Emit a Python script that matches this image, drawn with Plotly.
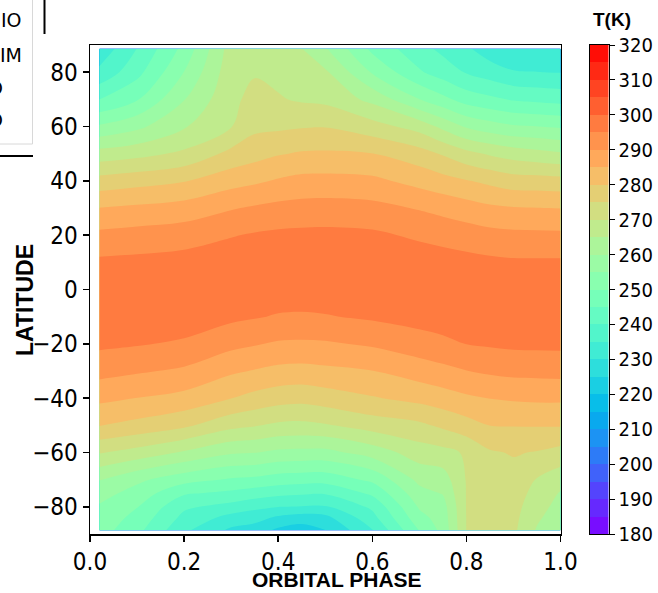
import math
import plotly.graph_objects as go

# ---------------- data ----------------
phase = [0.02, 0.1, 0.2, 0.3, 0.35, 0.4, 0.45, 0.5, 0.6, 0.7, 0.75, 0.8, 0.85, 0.9, 0.95, 1.0]
latitude = [-88.6, -84, -80, -75, -70, -60, -50, -40, -30, -20, -10, 0, 10, 20, 30, 40, 50, 60, 70, 80, 88.6]

# temperature[row = latitude][col = phase], K
temperature = [
    [252.2, 246.5, 236.0, 229.0, 227.5, 224.0, 222.5, 224.8, 234.7, 250.2, 256.5, 270.1, 272.3, 271.0, 264.5, 261.0],
    [253.4, 248.4, 238.6, 233.3, 232.0, 229.0, 227.5, 228.5, 238.3, 253.3, 257.3, 270.1, 272.4, 271.4, 265.8, 262.2],
    [254.4, 250.2, 240.9, 238.1, 236.3, 235.1, 234.7, 234.5, 241.0, 255.6, 258.0, 270.2, 272.5, 271.8, 266.9, 263.3],
    [257.0, 253.0, 245.6, 243.9, 242.5, 241.3, 240.6, 240.4, 246.0, 258.3, 260.3, 270.2, 272.7, 272.4, 268.3, 264.6],
    [260.2, 256.1, 251.9, 249.4, 248.8, 247.5, 247.1, 246.9, 251.1, 261.3, 262.5, 270.3, 273.0, 273.0, 269.7, 267.0],
    [270.4, 268.1, 264.4, 260.6, 260.2, 258.9, 258.6, 258.5, 262.2, 267.5, 268.5, 270.6, 274.4, 275.4, 274.7, 273.3],
    [280.2, 278.5, 276.0, 271.5, 270.4, 269.1, 268.8, 269.5, 272.3, 274.0, 276.0, 278.1, 280.1, 280.2, 280.3, 280.4],
    [286.2, 284.9, 283.4, 280.1, 278.4, 277.1, 276.6, 277.6, 279.6, 281.5, 282.8, 284.2, 285.1, 285.6, 285.9, 285.9],
    [291.7, 290.6, 289.2, 285.8, 284.7, 283.7, 283.4, 283.9, 284.9, 287.4, 288.6, 289.9, 290.8, 291.4, 291.5, 291.7],
    [296.0, 295.4, 294.3, 291.4, 290.4, 289.4, 289.2, 289.4, 290.7, 292.8, 293.9, 295.1, 295.6, 296.0, 296.1, 296.1],
    [298.2, 298.0, 297.7, 296.1, 295.4, 294.6, 294.4, 294.7, 295.7, 296.9, 297.4, 297.9, 298.1, 298.3, 298.3, 298.3],
    [298.2, 298.4, 298.5, 298.4, 298.1, 297.9, 297.8, 297.9, 298.2, 298.5, 298.5, 298.4, 298.3, 298.2, 298.1, 298.1],
    [296.0, 296.3, 296.9, 297.9, 298.2, 298.3, 298.4, 298.4, 298.2, 297.6, 297.1, 296.6, 296.1, 295.7, 295.7, 295.7],
    [291.2, 291.9, 292.8, 294.7, 295.5, 296.0, 296.2, 296.3, 295.9, 294.2, 293.4, 292.5, 291.6, 291.2, 291.1, 291.0],
    [285.1, 285.9, 287.0, 289.6, 290.6, 291.4, 291.8, 292.0, 291.5, 289.6, 288.4, 287.1, 285.9, 285.3, 285.1, 284.9],
    [277.0, 278.2, 279.7, 283.0, 284.1, 285.5, 286.5, 286.6, 286.1, 283.3, 281.8, 280.3, 278.8, 277.3, 277.2, 276.8],
    [267.0, 268.4, 271.0, 276.4, 278.1, 279.6, 280.5, 280.7, 280.1, 277.1, 274.5, 271.5, 269.4, 267.8, 266.7, 265.6],
    [255.7, 258.8, 264.5, 269.8, 273.8, 274.1, 274.6, 274.8, 272.0, 268.0, 263.7, 259.4, 257.2, 255.6, 255.1, 254.4],
    [244.9, 249.6, 259.8, 268.9, 271.4, 270.4, 269.4, 268.8, 263.6, 255.1, 251.4, 247.8, 246.1, 244.5, 243.8, 243.2],
    [236.2, 243.4, 255.1, 268.1, 269.6, 268.8, 267.0, 265.8, 254.5, 245.6, 242.6, 239.6, 237.5, 235.4, 235.1, 234.8],
    [231.5, 240.1, 251.5, 267.3, 268.8, 267.6, 265.1, 260.5, 248.8, 241.7, 238.8, 235.8, 232.3, 230.5, 230.7, 231.0],
]

x_ticks = [0.0, 0.2, 0.4, 0.6, 0.8, 1.0]
y_ticks = [-80, -60, -40, -20, 0, 20, 40, 60, 80]
cbar_ticks = [180, 190, 200, 210, 220, 230, 240, 250, 260, 270, 280, 290, 300, 310, 320]
level_start, level_end, level_step = 180, 320, 5

legend_texts = ["IO", "IM", "O", "O"]

# ---------------- colours: matplotlib "rainbow" ----------------
def rainbow(x):
    i = min(int(x * 256), 255)
    t = i / 255.0
    r = min(max(abs(2 * t - 0.5), 0.0), 1.0)
    g = min(max(math.sin(math.pi * t), 0.0), 1.0)
    b = min(max(math.cos(math.pi * t / 2), 0.0), 1.0)
    return "rgb(%d,%d,%d)" % (round(r * 255), round(g * 255), round(b * 255))

nb = (level_end - level_start) // level_step      # number of bands
nc = nb + 1                                        # number of levels
colorscale = [[0.0, rainbow(0.0)]]
for i in range(nb):
    colorscale.append([(i + 1) / nc, rainbow((i + 0.5) / nb)])
colorscale.append([1.0, rainbow(1.0)])

band_mid = [level_start + level_step * (i + 0.5) for i in range(nb)]

# ---------------- geometry ----------------
W, H = 658, 593
def px(x):
    return x / W
def py(y):
    return 1 - y / H

X0, X1 = px(90), px(560.5)
Y0, Y1 = py(534), py(45)

TICKFONT = "DejaVu Sans Condensed, DejaVu Sans, sans-serif"
BOLDFONT = "Liberation Sans, Arial, sans-serif"

fig = go.Figure()

fig.add_trace(go.Contour(
    x=phase, y=latitude, z=temperature,
    autocontour=False,
    contours=dict(start=level_start, end=level_end, size=level_step,
                  coloring="fill", showlines=False),
    line=dict(width=0, smoothing=1.0),
    colorscale=colorscale,
    showscale=False,
    hoverinfo="skip",
))

# colour bar drawn as a small heatmap
fig.add_trace(go.Heatmap(
    x=[0], y=band_mid, z=[[m] for m in band_mid],
    zmin=level_start - level_step / 2, zmax=level_end + level_step / 2,
    colorscale=colorscale, showscale=False,
    xaxis="x2", yaxis="y2", hoverinfo="skip",
))

axis_common = dict(
    ticks="outside", ticklen=6, tickwidth=1.5, tickcolor="black",
    showline=True, linecolor="black", linewidth=1.5, mirror=True,
    showgrid=False, zeroline=False,
    tickfont=dict(family=TICKFONT, size=24, color="black"),
)

fig.update_layout(
    width=W, height=H,
    margin=dict(l=0, r=0, t=0, b=0, autoexpand=False),
    paper_bgcolor="white", plot_bgcolor="white",
    showlegend=False,
    xaxis=dict(domain=[X0, X1], range=[0, 1], tickvals=x_ticks,
               tickformat=".1f", anchor="y", **axis_common),
    yaxis=dict(domain=[Y0, Y1], range=[-90, 90], tickvals=y_ticks,
               anchor="x", **axis_common),
    xaxis2=dict(domain=[px(590), px(608.5)], range=[-0.5, 0.5], anchor="y2",
                showticklabels=False, ticks="", showline=True, mirror=True,
                linecolor="black", linewidth=1, showgrid=False, zeroline=False),
    yaxis2=dict(domain=[Y0, Y1], range=[level_start, level_end], anchor="x2",
                side="right", tickvals=cbar_ticks, ticks="outside", ticklen=5,
                tickwidth=1, tickcolor="black",
                showline=True, mirror=True, linecolor="black", linewidth=1,
                showgrid=False, zeroline=False,
                tickfont=dict(family=TICKFONT, size=20, color="black")),
)

annotations = [
    dict(text="ORBITAL PHASE", x=px(336.5), y=py(579.5), xref="paper", yref="paper",
         showarrow=False, xanchor="center", yanchor="middle",
         font=dict(family=BOLDFONT, size=21, color="black", weight="bold")),
    dict(text="LATITUDE", x=px(25), y=py(300), xref="paper", yref="paper",
         showarrow=False, xanchor="center", yanchor="middle", textangle=-90,
         font=dict(family=BOLDFONT, size=23, color="black", weight="bold")),
    dict(text="T(K)", x=px(611.5), y=py(20), xref="paper", yref="paper",
         showarrow=False, xanchor="center", yanchor="middle",
         font=dict(family=BOLDFONT, size=19, color="black", weight="bold")),
]
legend_pos = [(23.5, 20), (23.5, 55), (4.5, 88), (4.5, 120)]
for t, (lx, ly) in zip(legend_texts, legend_pos):
    annotations.append(dict(text=t, x=px(lx), y=py(ly), xref="paper", yref="paper",
                            showarrow=False, xanchor="right", yanchor="middle",
                            font=dict(family="DejaVu Sans, sans-serif", size=19, color="black")))
fig.update_layout(annotations=annotations)

shapes = [
    dict(type="rect", xref="paper", yref="paper", x0=px(-5), x1=px(32.5), y0=py(144), y1=py(-5),
         line=dict(color="#d8d8d8", width=1), fillcolor="rgba(255,255,255,0)", layer="below"),
    dict(type="line", xref="paper", yref="paper", x0=px(0), x1=px(33), y0=py(156), y1=py(156),
         line=dict(color="black", width=2)),
    dict(type="line", xref="paper", yref="paper", x0=px(44.5), x1=px(44.5), y0=py(0), y1=py(34),
         line=dict(color="black", width=2)),
]
fig.update_layout(shapes=shapes)

fig.write_html(
    "out.html",
    config={"displayModeBar": False, "staticPlot": True},
    post_script="document.body.style.margin='0px';document.body.style.padding='0px';"
                "document.body.style.overflow='hidden';",
)
